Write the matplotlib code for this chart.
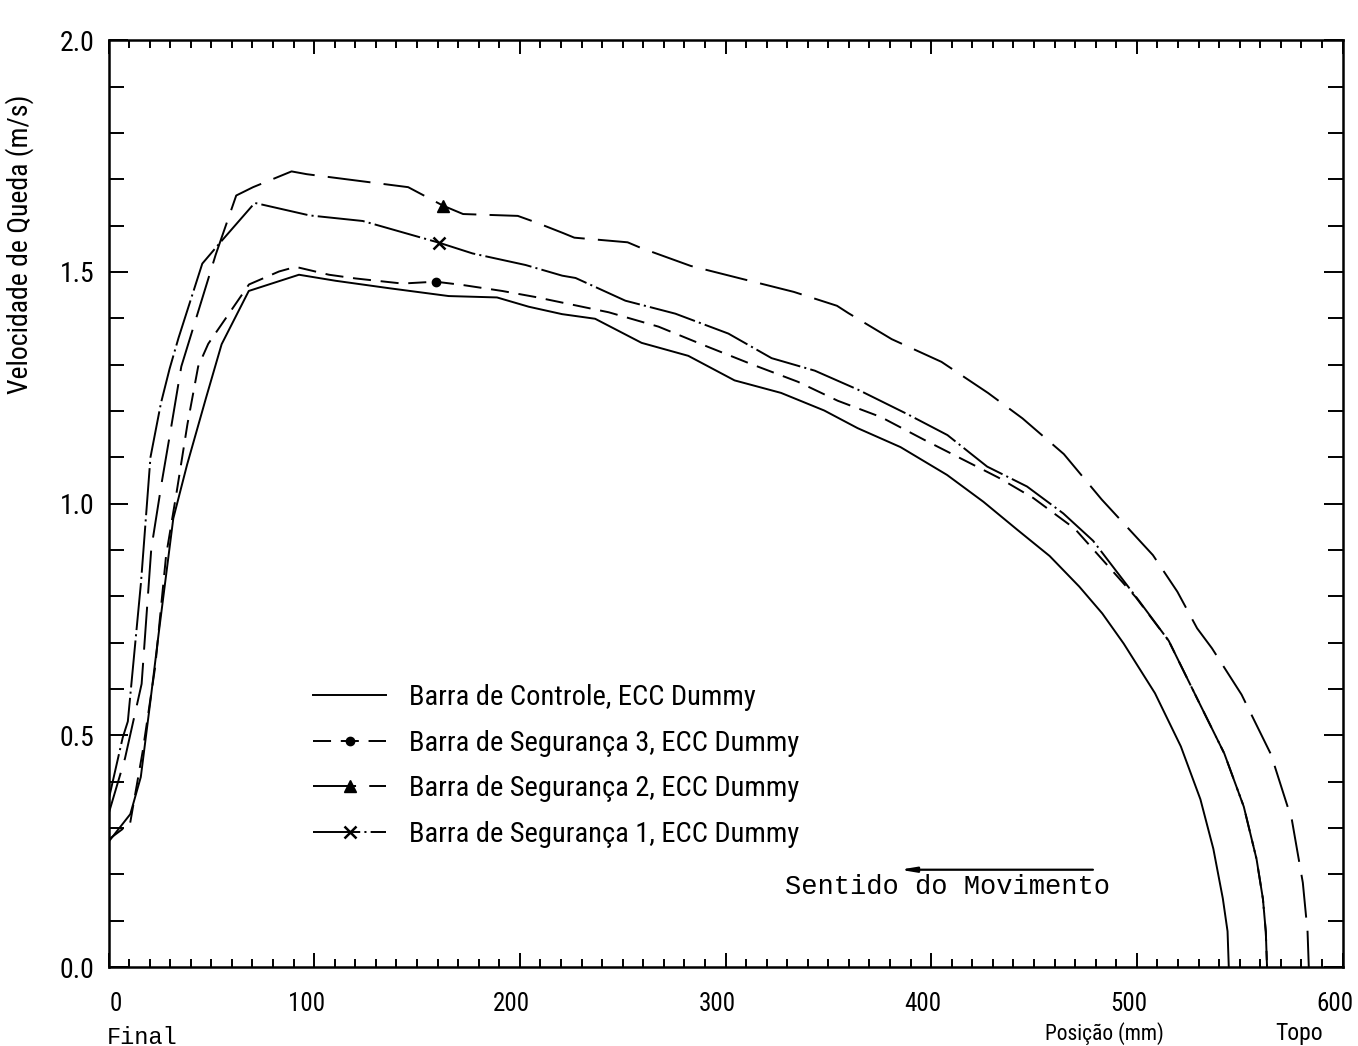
import matplotlib
matplotlib.use("Agg")
import matplotlib.pyplot as plt
from matplotlib import font_manager
from matplotlib.ticker import MultipleLocator
from matplotlib.transforms import ScaledTranslation

# Velocidade de queda x posição (leitura do gráfico digitalizado)
ctrl_x = [0, 10.6, 15.7, 20.4, 24.4, 31.5, 38.2, 47.4, 55, 68.2, 92.6, 110.4, 136.3,
          165.4, 188.9, 204.3, 220.5, 236.6, 259.2, 281.9, 304.4, 327, 348, 364.2,
          385.1, 407.7, 425.4, 441.5, 457.6, 472, 483.2, 493.6, 508.8, 521.4, 530.9,
          537.2, 541.8, 544.1, 544.7]
ctrl_y = [0.27, 0.33, 0.41, 0.575, 0.72, 0.968, 1.084, 1.228, 1.344, 1.459, 1.494,
          1.481, 1.465, 1.448, 1.445, 1.425, 1.409, 1.399, 1.347, 1.319, 1.266, 1.239,
          1.201, 1.163, 1.122, 1.062, 1.004, 0.945, 0.887, 0.821, 0.763, 0.698, 0.591,
          0.476, 0.362, 0.255, 0.148, 0.077, 0.0]

seg3_x = [0, 10.5, 16.6, 22.7, 28, 33.2, 38.4, 43.6, 48.5, 68.3, 82.9, 91, 107.2,
          120.1, 142.8, 159, 172, 191.4, 207.5, 220.5, 243.2, 267.4, 290, 312.6,
          335.2, 354.6, 375.5, 396.5, 414.2, 432.8, 449.7, 469.8, 485.1, 499.5,
          515.5, 529.8, 542.5, 552, 558.2, 561.3, 562.7, 563.3]
seg3_y = [0.275, 0.31, 0.465, 0.648, 0.888, 1.027, 1.172, 1.296, 1.345, 1.473,
          1.501, 1.511, 1.494, 1.486, 1.475, 1.479, 1.472, 1.459, 1.446, 1.434,
          1.413, 1.382, 1.341, 1.301, 1.263, 1.222, 1.187, 1.138, 1.098, 1.056,
          1.012, 0.946, 0.870, 0.798, 0.704, 0.575, 0.461, 0.346, 0.233, 0.147,
          0.076, 0.0]

seg2_x = [0, 8, 16.1, 20.8, 26, 30.2, 35.4, 52.1, 62.1, 70.3, 89, 96.4, 145.7,
          162.7, 172.4, 199, 207.8, 221, 226.5, 252.4, 258.8, 283.1, 308.1, 333.2,
          354.2, 359.8, 380.8, 405, 427.6, 444.4, 464.5, 482.9, 507.8, 519.7, 529.3,
          536.5, 550.9, 565.2, 575.4, 580.7, 583, 583.6]
seg2_y = [0.33, 0.45, 0.611, 0.903, 1.049, 1.158, 1.296, 1.537, 1.665, 1.683,
          1.717, 1.711, 1.683, 1.643, 1.625, 1.621, 1.607, 1.584, 1.574, 1.564,
          1.552, 1.513, 1.485, 1.457, 1.427, 1.411, 1.355, 1.306, 1.239, 1.184,
          1.107, 1.009, 0.889, 0.810, 0.731, 0.688, 0.588, 0.459, 0.317, 0.182,
          0.076, 0.0]

seg1_x = [0, 6.9, 9.4, 15.8, 20.4, 25.5, 29.7, 34, 45.6, 54.6, 71.1, 97.8, 123.6,
          160.8, 177, 202.8, 220.6, 227.1, 251.3, 275.6, 301.4, 322.4, 343.4, 364.4,
          388.5, 407.9, 427.2, 446.6, 464.2, 478.7, 501.1, 515.5, 529.8, 542.5, 552,
          558.2, 561.3, 562.7, 563.3]
seg1_y = [0.36, 0.495, 0.53, 0.83, 1.10, 1.217, 1.291, 1.357, 1.518, 1.565, 1.649,
          1.622, 1.610, 1.563, 1.540, 1.515, 1.492, 1.487, 1.438, 1.410, 1.367,
          1.314, 1.287, 1.246, 1.193, 1.148, 1.080, 1.037, 0.979, 0.920, 0.790,
          0.704, 0.575, 0.461, 0.346, 0.233, 0.147, 0.076, 0.0]

labels = ["Barra de Controle, ECC Dummy",
          "Barra de Segurança 3, ECC Dummy",
          "Barra de Segurança 2, ECC Dummy",
          "Barra de Segurança 1, ECC Dummy"]


def narrow_font():
    # a condensed sans is closest to the plotter lettering
    fonts = font_manager.fontManager.ttflist
    names = {f.name for f in fonts}
    for n in ["Liberation Sans Narrow", "Roboto Condensed", "Noto Sans Condensed",
              "Open Sans Condensed", "DejaVu Sans Condensed"]:
        if n in names:
            return n, "normal"
    for fam in ["DejaVu Sans", "Noto Sans", "Roboto", "Open Sans"]:
        for f in fonts:
            st = f.stretch
            if f.name == fam and f.style == "normal" and (
                    (isinstance(st, str) and "condensed" in st)
                    or (isinstance(st, (int, float)) and st < 500)):
                return fam, "condensed"
    return "DejaVu Sans", "normal"


plot_font, plot_stretch = narrow_font()
plt.rcParams["font.family"] = [plot_font, "DejaVu Sans"]
plt.rcParams["font.stretch"] = plot_stretch
plt.rcParams["lines.scale_dashes"] = False
narrow = plot_font != "DejaVu Sans" or plot_stretch != "normal"
fs_tick = 18 if narrow else 15
fs_leg = 20.5 if narrow else 16.5
mono = ["Liberation Mono", "DejaVu Sans Mono"]

fig = plt.figure(figsize=(13.58, 10.46), dpi=100)
ax = fig.add_axes([0.0799, 0.0755, 0.9087, 0.886])

lw = 1.4
ax.plot(ctrl_x, ctrl_y, color="black", lw=lw, label=labels[0])
ax.plot(seg3_x, seg3_y, color="black", lw=lw, dashes=(13, 7),
        marker="o", ms=6, markevery=[seg3_x.index(159)], label=labels[1])
ax.plot(seg2_x, seg2_y, color="black", lw=lw, dashes=(31, 9.5),
        marker="^", ms=8, markevery=[seg2_x.index(162.7)], label=labels[2])
ax.plot(seg1_x, seg1_y, color="black", lw=lw, dashes=(34, 3, 1.5, 3),
        marker="x", ms=8, mew=1.8, markevery=[seg1_x.index(160.8)], label=labels[3])

ax.set_xlim(0, 600)
ax.set_ylim(0, 2.0)
ax.xaxis.set_major_locator(MultipleLocator(100))
ax.xaxis.set_minor_locator(MultipleLocator(10))
ax.yaxis.set_major_locator(MultipleLocator(0.5))
ax.yaxis.set_minor_locator(MultipleLocator(0.1))
ax.yaxis.set_major_formatter(plt.FormatStrFormatter("%.1f"))

for s in ax.spines.values():
    s.set_linewidth(1.8)
ax.tick_params(which="both", direction="in", top=True, right=True, width=1.4)
ax.tick_params(axis="x", which="major", length=10, pad=18, labelsize=fs_tick)
ax.tick_params(axis="x", which="minor", length=5.5)
ax.tick_params(axis="y", which="major", length=14, pad=10, labelsize=fs_tick + 2)
ax.tick_params(axis="y", which="minor", length=11)

fig.text(0.0147, 0.766, "Velocidade de Queda (m/s)", rotation=90,
         ha="center", va="center", fontsize=20)
fig.text(0.0788, 0.0086, "Final", ha="left", va="center", fontsize=17, family=mono)
fig.text(0.7695, 0.0124, "Posição (mm)", ha="left", va="center", fontsize=15.5)
fig.text(0.939, 0.0124, "Topo", ha="left", va="center", fontsize=17)

ax.legend(loc="upper left", bbox_to_anchor=(0.2201, 0.3595),
          bbox_transform=fig.transFigure, frameon=False, fontsize=fs_leg,
          handlelength=2.76 * 19 / fs_leg, handletextpad=0.87 * 19 / fs_leg,
          labelspacing=0.7 * 19 / fs_leg, borderpad=0, numpoints=1)

ax.annotate("", xy=(0.639, 0.105), xytext=(0.80, 0.105), xycoords="axes fraction",
            arrowprops=dict(arrowstyle="-|>,head_length=0.9,head_width=0.15",
                            color="black", lw=1.6))
ax.text(0.548, 0.086, "Sentido do Movimento", transform=ax.transAxes,
        family=mono, fontsize=19.5, va="center")

# tick labels on the scan sit a little left of their ticks (0 a little right)
fig.canvas.draw()
for lab in ax.get_xticklabels():
    dx = 7 if lab.get_text() == "0" else -8
    lab.set_transform(lab.get_transform() + ScaledTranslation(dx / 100, 0, fig.dpi_scale_trans))

fig.savefig("out.png", dpi=100)
